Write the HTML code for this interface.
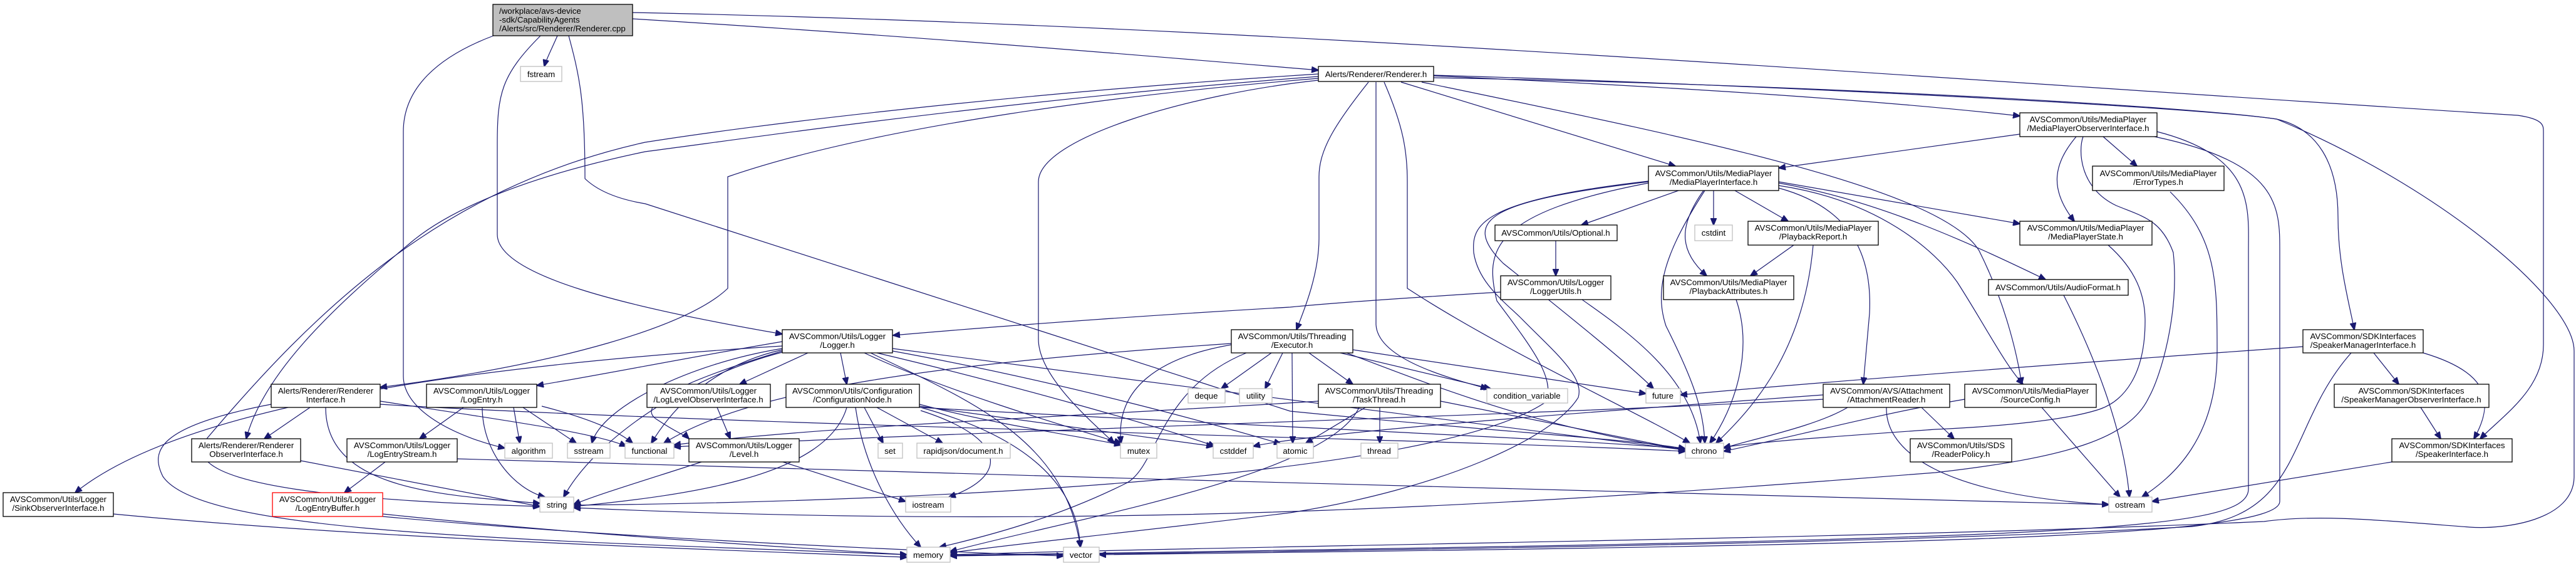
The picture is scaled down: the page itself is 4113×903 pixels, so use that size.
<!DOCTYPE html>
<html><head><meta charset="utf-8"><style>
html,body{margin:0;padding:0;background:#fff;}
svg{display:block;}
text{font-family:"Liberation Sans",Arial,sans-serif;font-size:13.3px;fill:#000;}
.n{fill:#fff;stroke:#000;stroke-width:1.3;}
.l{fill:#fff;stroke:#bfbfbf;stroke-width:1.3;}
.e{fill:none;stroke:#191970;stroke-width:1.2;}
</style></head><body>
<svg width="4113" height="903" viewBox="0 0 4113 903" xmlns="http://www.w3.org/2000/svg">
<defs><marker id="a" viewBox="0 0 12 10" refX="11" refY="5" markerWidth="12" markerHeight="10" markerUnits="userSpaceOnUse" orient="auto"><path d="M0,0 L12,5 L0,10 z" fill="#191970" stroke="#191970"/></marker></defs>
<g class="e" marker-end="url(#a)">
<path d="M890,57 C880,80 872,95 869,106"/>
<path d="M1010,30 C1500,60 1900,95 2105,112"/>
<path d="M863,57 C800,120 794,150 794,230 L794,374 C794,440 1000,490 1249,533"/>
<path d="M788,57 C700,90 644,140 644,210 L644,600 C644,660 740,700 806,715"/>
<path d="M908,57 C925,120 934,160 934,285 C960,310 1000,320 1030,325 L2060,656 C2400,690 2600,700 2691,716"/>
<path d="M1010,20 C2000,40 3000,120 4020,184 C4061,190 4061,200 4061,210 L4061,550 C4061,620 4000,660 3960,700"/>
<path d="M2105,125 C1800,150 1400,200 1162,282 L1162,460 C1100,520 900,580 607,618"/>
<path d="M2105,122 C1600,160 1200,220 1030,242 C800,290 700,350 657,386 C520,500 420,600 393,700"/>
<path d="M2105,118 C1600,150 1200,200 1030,227 C700,300 500,500 330,700 C270,780 600,800 862,808"/>
<path d="M2185,131 C2130,200 2106,240 2106,282 L2106,380 C2106,440 2080,500 2070,526"/>
<path d="M2105,128 C1900,150 1658,220 1658,290 L1658,541 C1658,600 1740,670 1779,707"/>
<path d="M2197,131 L2197,518 C2200,570 2300,600 2375,620"/>
<path d="M2210,131 C2240,200 2247,240 2247,290 L2247,460 C2400,560 2620,660 2698,707"/>
<path d="M2237,131 L2675,265"/>
<path d="M2270,131 C2700,220 3100,300 3160,400 C3200,480 3220,560 3228,613"/>
<path d="M2289,121 C2700,140 3000,160 3225,185"/>
<path d="M2289,120 C2800,135 3500,170 3635,190 C3700,205 3733,260 3733,346 C3733,420 3750,480 3759,526"/>
<path d="M2289,124 C2900,135 3500,170 3635,190 C3900,300 4110,480 4110,560 L4110,760 C4110,830 4000,845 3943,841 C3800,830 3700,820 3615,832 C3000,860 2000,870 1517,885"/>
<path d="M1249,545 C1100,570 950,600 857,615"/>
<path d="M1249,552 C800,580 300,640 120,786"/>
<path d="M1290,563 L1181,613"/>
<path d="M1342,563 L1352,613"/>
<path d="M1249,560 C1150,590 1000,640 1050,670 C1080,690 1095,695 1100,700"/>
<path d="M1249,558 C1150,580 1080,640 1040,707"/>
<path d="M1249,556 C1100,580 960,650 945,707"/>
<path d="M1249,562 C1100,600 950,700 900,793"/>
<path d="M1380,563 C1500,620 1700,680 1790,707"/>
<path d="M1400,563 C1600,610 1850,680 1940,712"/>
<path d="M1425,560 C1700,610 1950,680 2045,708"/>
<path d="M1425,556 C1900,620 2500,690 2691,718"/>
<path d="M1390,563 C1550,640 1700,700 1725,873"/>
<path d="M820,650 L830,707"/>
<path d="M835,650 L920,707"/>
<path d="M865,648 C950,670 990,690 1010,707"/>
<path d="M770,650 C770,720 820,780 870,793"/>
<path d="M740,650 L670,700"/>
<path d="M495,650 L422,700"/>
<path d="M520,650 C520,780 700,790 862,803"/>
<path d="M607,640 C800,670 950,690 1000,712"/>
<path d="M433,645 C250,680 240,720 260,760 C320,850 800,860 1448,885"/>
<path d="M607,645 C1200,680 2300,700 2691,720"/>
<path d="M480,735 L862,808"/>
<path d="M615,737 L550,786"/>
<path d="M730,732 C1500,760 3000,790 3367,805"/>
<path d="M611,820 C900,850 1200,870 1448,885"/>
<path d="M611,824 C1000,860 1500,880 1698,887"/>
<path d="M181,820 C600,860 1100,875 1448,889"/>
<path d="M1145,650 L1166,700"/>
<path d="M1250,737 L1446,800"/>
<path d="M1120,737 C1050,760 950,790 916,805"/>
<path d="M1380,650 L1410,707"/>
<path d="M1400,650 L1505,707"/>
<path d="M1468,645 C1600,680 1750,700 1790,710"/>
<path d="M1366,650 C1380,750 1430,830 1470,873"/>
<path d="M1470,650 C1650,700 1720,780 1725,873"/>
<path d="M1470,655 C1610,700 1610,760 1515,793"/>
<path d="M1352,650 C1320,760 1100,790 916,808"/>
<path d="M1468,650 C2000,680 2500,700 2691,716"/>
<path d="M1468,648 C1700,680 1850,700 1937,712"/>
<path d="M2030,563 L1950,620"/>
<path d="M2048,563 L2020,620"/>
<path d="M2090,563 L2160,613"/>
<path d="M2140,563 L2380,620"/>
<path d="M2160,558 L2628,628"/>
<path d="M2150,563 C2300,620 2450,680 2691,718"/>
<path d="M1966,550 C1850,570 1780,620 1790,707"/>
<path d="M2063,563 L2064,707"/>
<path d="M1990,563 C1850,620 1850,740 1800,770 C1700,820 1600,850 1500,873"/>
<path d="M1966,548 C1500,580 1200,620 1060,707"/>
<path d="M2203,650 L2203,707"/>
<path d="M2180,650 L2085,707"/>
<path d="M2300,640 C2500,680 2600,700 2691,718"/>
<path d="M2105,640 C1800,660 1300,680 1076,710"/>
<path d="M2170,650 C2120,760 1700,830 1517,880"/>
<path d="M2680,304 L2525,359"/>
<path d="M2736,304 L2736,359"/>
<path d="M2770,304 L2855,353"/>
<path d="M2720,304 C2680,360 2680,400 2725,440"/>
<path d="M2722,304 C2660,400 2640,460 2660,520 C2700,600 2720,650 2722,707"/>
<path d="M2632,290 C2380,320 2330,350 2400,420 C2500,500 2600,580 2640,620"/>
<path d="M2632,289 C2360,320 2350,360 2353,403 C2360,450 2400,480 2428,507 C2480,560 2530,600 2520,634 C2480,700 2300,780 2060,818 C1800,850 1600,870 1517,882"/>
<path d="M2632,292 C2380,340 2370,400 2390,480 C2450,560 2480,600 2470,640 C2300,760 1500,800 916,806"/>
<path d="M2840,300 C2950,330 2990,400 2985,500 L2975,613"/>
<path d="M2840,296 C3000,320 3090,400 3125,450 C3170,520 3200,580 3230,613"/>
<path d="M2840,292 C3000,320 3150,390 3266,446"/>
<path d="M2840,290 L3225,357"/>
<path d="M2484,384 L2484,440"/>
<path d="M2396,466 C2200,478 2100,486 2060,490 C1800,505 1600,520 1426,535"/>
<path d="M2526,478 C2600,530 2700,600 2715,707"/>
<path d="M2864,391 L2795,440"/>
<path d="M2895,391 C2880,560 2800,650 2740,707"/>
<path d="M2772,478 C2800,560 2770,650 2730,707"/>
<path d="M3225,214 L2840,268"/>
<path d="M3315,218 C3280,260 3270,300 3312,353"/>
<path d="M3358,218 L3412,265"/>
<path d="M3326,218 C3318,240 3320,300 3379,328 C3420,345 3451,350 3470,403 C3480,500 3450,600 3431,634 C3400,700 3300,730 3090,754 C2500,800 1800,850 916,810"/>
<path d="M3444,210 C3600,250 3590,330 3590,400 L3590,780 C3590,850 3300,860 1517,886"/>
<path d="M3440,218 C3640,260 3640,330 3640,400 L3640,800 C3640,860 3000,870 1755,885"/>
<path d="M3465,306 C3540,380 3540,450 3540,560 C3540,700 3470,760 3420,793"/>
<path d="M3366,391 C3410,430 3425,470 3425,512 C3425,600 3390,640 3352,653 C3300,670 3200,680 3090,685 C2950,695 2800,705 2752,714"/>
<path d="M3295,471 C3340,560 3390,680 3400,793"/>
<path d="M3068,650 L3120,700"/>
<path d="M2950,650 C2900,680 2800,700 2752,715"/>
<path d="M2911,637 C2500,660 1500,690 1076,713"/>
<path d="M2911,630 C2500,660 2100,690 2001,712"/>
<path d="M3012,650 C3010,720 3100,790 3367,805"/>
<path d="M3137,637 C3000,660 2850,700 2752,720"/>
<path d="M3260,650 L3385,793"/>
<path d="M3677,553 C3300,580 2900,610 2683,630"/>
<path d="M3790,563 L3830,613"/>
<path d="M3869,563 C3960,590 3990,630 3950,700"/>
<path d="M3754,563 C3650,680 3680,820 3500,840 C3000,870 2000,880 1517,887"/>
<path d="M3865,650 L3897,700"/>
<path d="M3819,737 L3436,800"/>
</g>
<!-- root -->
<rect x="787" y="7" width="223" height="50" fill="#bfbfbf" stroke="#000" stroke-width="1.3"/>
<text x="797" y="22">/workplace/avs-device</text>
<text x="797" y="36">-sdk/CapabilityAgents</text>
<text x="797" y="50">/Alerts/src/Renderer/Renderer.cpp</text>
<g text-anchor="middle">
<!-- leaves -->
<rect class="l" x="831" y="106" width="66" height="24"/><text x="864" y="123">fstream</text>
<rect class="l" x="2706" y="359" width="60" height="25"/><text x="2736" y="376">cstdint</text>
<rect class="l" x="1897" y="620" width="59" height="23"/><text x="1926" y="636">deque</text>
<rect class="l" x="1979" y="620" width="52" height="23"/><text x="2005" y="636">utility</text>
<rect class="l" x="2374" y="620" width="129" height="23"/><text x="2438" y="636">condition_variable</text>
<rect class="l" x="2628" y="620" width="55" height="23"/><text x="2655" y="636">future</text>
<rect class="l" x="806" y="707" width="76" height="24"/><text x="844" y="724">algorithm</text>
<rect class="l" x="906" y="707" width="68" height="24"/><text x="940" y="724">sstream</text>
<rect class="l" x="998" y="707" width="78" height="24"/><text x="1037" y="724">functional</text>
<rect class="l" x="1402" y="707" width="39" height="24"/><text x="1421" y="724">set</text>
<rect class="l" x="1464" y="707" width="149" height="24"/><text x="1538" y="724">rapidjson/document.h</text>
<rect class="l" x="1789" y="707" width="58" height="24"/><text x="1818" y="724">mutex</text>
<rect class="l" x="1937" y="707" width="64" height="24"/><text x="1969" y="724">cstddef</text>
<rect class="l" x="2039" y="707" width="58" height="24"/><text x="2068" y="724">atomic</text>
<rect class="l" x="2173" y="707" width="59" height="24"/><text x="2202" y="724">thread</text>
<rect class="l" x="2691" y="707" width="61" height="24"/><text x="2721" y="724">chrono</text>
<rect class="l" x="862" y="793" width="54" height="24"/><text x="889" y="810">string</text>
<rect class="l" x="1446" y="793" width="72" height="24"/><text x="1482" y="810">iostream</text>
<rect class="l" x="3367" y="793" width="69" height="24"/><text x="3401" y="810">ostream</text>
<rect class="l" x="1448" y="873" width="69" height="24"/><text x="1482" y="890">memory</text>
<rect class="l" x="1698" y="873" width="57" height="24"/><text x="1726" y="890">vector</text>
<!-- single-line nodes -->
<rect class="n" x="2105" y="106" width="184" height="24"/><text x="2197" y="123">Alerts/Renderer/Renderer.h</text>
<rect class="n" x="2387" y="359" width="195" height="25"/><text x="2484" y="376">AVSCommon/Utils/Optional.h</text>
<rect class="n" x="3175" y="446" width="223" height="25"/><text x="3286" y="463">AVSCommon/Utils/AudioFormat.h</text>
<!-- two-line nodes -->
<rect class="n" x="3225" y="180" width="219" height="38"/><text x="3334" y="195">AVSCommon/Utils/MediaPlayer</text><text x="3334" y="209">/MediaPlayerObserverInterface.h</text>
<rect class="n" x="2632" y="265" width="208" height="39"/><text x="2736" y="281">AVSCommon/Utils/MediaPlayer</text><text x="2736" y="295">/MediaPlayerInterface.h</text>
<rect class="n" x="3341" y="265" width="210" height="39"/><text x="3446" y="281">AVSCommon/Utils/MediaPlayer</text><text x="3446" y="295">/ErrorTypes.h</text>
<rect class="n" x="2791" y="353" width="208" height="38"/><text x="2895" y="368">AVSCommon/Utils/MediaPlayer</text><text x="2895" y="382">/PlaybackReport.h</text>
<rect class="n" x="3225" y="353" width="211" height="38"/><text x="3330" y="368">AVSCommon/Utils/MediaPlayer</text><text x="3330" y="382">/MediaPlayerState.h</text>
<rect class="n" x="2396" y="440" width="176" height="38"/><text x="2484" y="455">AVSCommon/Utils/Logger</text><text x="2484" y="469">/LoggerUtils.h</text>
<rect class="n" x="2656" y="440" width="208" height="38"/><text x="2760" y="455">AVSCommon/Utils/MediaPlayer</text><text x="2760" y="469">/PlaybackAttributes.h</text>
<rect class="n" x="1249" y="526" width="176" height="37"/><text x="1337" y="541">AVSCommon/Utils/Logger</text><text x="1337" y="555">/Logger.h</text>
<rect class="n" x="1966" y="526" width="194" height="37"/><text x="2063" y="541">AVSCommon/Utils/Threading</text><text x="2063" y="555">/Executor.h</text>
<rect class="n" x="3677" y="526" width="192" height="37"/><text x="3773" y="541">AVSCommon/SDKInterfaces</text><text x="3773" y="555">/SpeakerManagerInterface.h</text>
<rect class="n" x="433" y="613" width="174" height="37"/><text x="520" y="628">Alerts/Renderer/Renderer</text><text x="520" y="642">Interface.h</text>
<rect class="n" x="681" y="613" width="176" height="37"/><text x="769" y="628">AVSCommon/Utils/Logger</text><text x="769" y="642">/LogEntry.h</text>
<rect class="n" x="1033" y="613" width="197" height="37"/><text x="1131" y="628">AVSCommon/Utils/Logger</text><text x="1131" y="642">/LogLevelObserverInterface.h</text>
<rect class="n" x="1255" y="613" width="213" height="37"/><text x="1361" y="628">AVSCommon/Utils/Configuration</text><text x="1361" y="642">/ConfigurationNode.h</text>
<rect class="n" x="2105" y="613" width="195" height="37"/><text x="2202" y="628">AVSCommon/Utils/Threading</text><text x="2202" y="642">/TaskThread.h</text>
<rect class="n" x="2911" y="613" width="202" height="37"/><text x="3012" y="628">AVSCommon/AVS/Attachment</text><text x="3012" y="642">/AttachmentReader.h</text>
<rect class="n" x="3137" y="613" width="210" height="37"/><text x="3242" y="628">AVSCommon/Utils/MediaPlayer</text><text x="3242" y="642">/SourceConfig.h</text>
<rect class="n" x="3727" y="613" width="247" height="37"/><text x="3850" y="628">AVSCommon/SDKInterfaces</text><text x="3850" y="642">/SpeakerManagerObserverInterface.h</text>
<rect class="n" x="306" y="700" width="174" height="37"/><text x="393" y="715">Alerts/Renderer/Renderer</text><text x="393" y="729">ObserverInterface.h</text>
<rect class="n" x="554" y="700" width="176" height="37"/><text x="642" y="715">AVSCommon/Utils/Logger</text><text x="642" y="729">/LogEntryStream.h</text>
<rect class="n" x="1100" y="700" width="176" height="37"/><text x="1188" y="715">AVSCommon/Utils/Logger</text><text x="1188" y="729">/Level.h</text>
<rect class="n" x="3050" y="700" width="162" height="37"/><text x="3131" y="715">AVSCommon/Utils/SDS</text><text x="3131" y="729">/ReaderPolicy.h</text>
<rect class="n" x="3819" y="700" width="192" height="37"/><text x="3915" y="715">AVSCommon/SDKInterfaces</text><text x="3915" y="729">/SpeakerInterface.h</text>
<rect class="n" x="5" y="786" width="176" height="38"/><text x="93" y="801">AVSCommon/Utils/Logger</text><text x="93" y="815">/SinkObserverInterface.h</text>
<rect x="435" y="786" width="176" height="38" fill="#fff" stroke="#ff0000" stroke-width="1.3"/><text x="523" y="801">AVSCommon/Utils/Logger</text><text x="523" y="815">/LogEntryBuffer.h</text>
</g>
</svg>
</body></html>
